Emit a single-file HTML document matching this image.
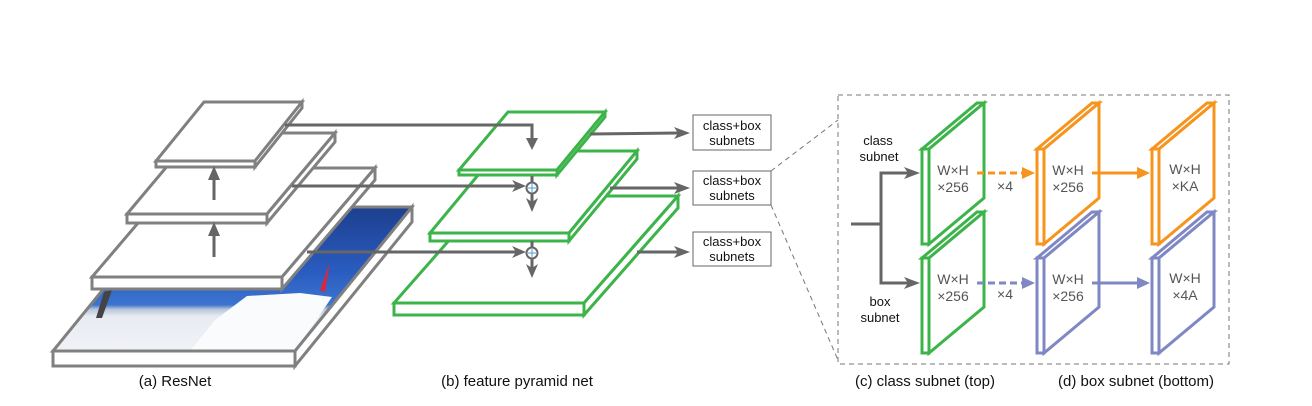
<!DOCTYPE html>
<html><head><meta charset="utf-8"><style>
html,body{margin:0;padding:0;background:#fff;}
svg{display:block;}
text{font-family:"Liberation Sans",sans-serif;}
</style></head><body>
<svg width="1312" height="406" viewBox="0 0 1312 406" xmlns="http://www.w3.org/2000/svg">
<defs>
<linearGradient id="sky" x1="0" y1="207" x2="0" y2="351" gradientUnits="userSpaceOnUse">
<stop offset="0" stop-color="#1d3f8e"/><stop offset="0.45" stop-color="#2a5cc0"/><stop offset="0.68" stop-color="#3c74d0"/><stop offset="0.71" stop-color="#b8c4d8"/><stop offset="0.76" stop-color="#e8ecf2"/><stop offset="1" stop-color="#f0f2f6"/>
</linearGradient>
</defs>
<g stroke-linejoin="miter">
<!-- image slab -->
<polygon points="170,207 412,207 295,351 53,351" fill="url(#sky)" stroke="#808080" stroke-width="3"/>
<polygon points="190,351 215,320 247,296 300,293 332,297 295,351" fill="#fafbfc"/>
<polygon points="320,290 330,262 325,292" fill="#d8283c"/>
<polygon points="104,292 112,290 102,318 96,318" fill="#444"/>
<rect x="53" y="351" width="242" height="15" fill="#fff" stroke="#808080" stroke-width="3"/>
<polygon points="295,351 412,207 412,222 295,366" fill="#fff" stroke="#808080" stroke-width="3"/>
<!-- slab3 -->
<polygon points="185,168 375,168 282,277 92,277" fill="#fff" stroke="#808080" stroke-width="3"/>
<rect x="92" y="277" width="190" height="12" fill="#fff" stroke="#808080" stroke-width="3"/>
<polygon points="282,277 375,168 375,180 282,289" fill="#fff" stroke="#808080" stroke-width="3"/>
<!-- slab2 -->
<polygon points="195,133 335,133 267,214 127,214" fill="#fff" stroke="#808080" stroke-width="3"/>
<rect x="127" y="214" width="140" height="9" fill="#fff" stroke="#808080" stroke-width="3"/>
<polygon points="267,214 335,133 335,142 267,223" fill="#fff" stroke="#808080" stroke-width="3"/>
<!-- slab1 -->
<polygon points="204,102 302,102 255,161 156,161" fill="#fff" stroke="#808080" stroke-width="3"/>
<rect x="156" y="161" width="99" height="6" fill="#fff" stroke="#808080" stroke-width="3"/>
<polygon points="255,161 302,102 302,108 255,167" fill="#fff" stroke="#808080" stroke-width="3"/>
<!-- up arrows -->
<line x1="214" y1="257" x2="214" y2="232" stroke="#666" stroke-width="3"/>
<polygon points="208,236 214,222 220,236" fill="#666"/>
<line x1="214" y1="200" x2="214" y2="176" stroke="#666" stroke-width="3"/>
<polygon points="208,180 214,166 220,180" fill="#666"/>

<!-- green slabs -->
<g fill="#fff" stroke="#3cb44a" stroke-width="3">
<polygon points="488,196 678,196 584,303 394,303"/>
<rect x="394" y="303" width="190" height="12"/>
<polygon points="584,303 678,196 678,208 584,315"/>
<polygon points="498,151 637,151 569,233 430,233"/>
<rect x="430" y="233" width="139" height="8"/>
<polygon points="569,233 637,151 637,159 569,241"/>
<polygon points="508,112 605,112 557,170 459,170"/>
<rect x="459" y="170" width="98" height="5"/>
<polygon points="557,170 605,112 605,117 557,175"/>
</g>

<!-- lateral connections -->
<g stroke="#666" stroke-width="3" fill="none">
<polyline points="285,125 532,125 532,140"/>
<line x1="292" y1="186" x2="518" y2="186"/>
<line x1="307" y1="252" x2="518" y2="252"/>
<line x1="532" y1="176" x2="532" y2="182"/>
<line x1="532" y1="194" x2="532" y2="202"/>
<line x1="532" y1="241" x2="532" y2="247"/>
<line x1="532" y1="259" x2="532" y2="268"/>
</g>
<polygon points="526,138 532,150 538,138" fill="#666"/>
<polygon points="512,180 526,186 512,192 516,186" fill="#666"/>
<polygon points="512,246 526,252 512,258 516,252" fill="#666"/>
<polygon points="526,198 532,212 538,198 532,202" fill="#666"/>
<polygon points="526,264 532,278 538,264 532,268" fill="#666"/>
<circle cx="532" cy="188" r="5.5" fill="#fff" stroke="#666" stroke-width="2"/>
<circle cx="532" cy="253" r="5.5" fill="#fff" stroke="#666" stroke-width="2"/>
<path d="M532,184v8M528,188h8" stroke="#4aa0d8" stroke-width="1"/>
<path d="M532,249v8M528,253h8" stroke="#4aa0d8" stroke-width="1"/>

<!-- to subnets -->
<g stroke="#666" stroke-width="3">
<line x1="590" y1="134" x2="678" y2="133"/>
<line x1="610" y1="188" x2="678" y2="188"/>
<line x1="637" y1="252" x2="678" y2="252"/>
</g>
<polygon points="674,127 690,133 674,139 678,133" fill="#666"/>
<polygon points="674,182 690,188 674,194 678,188" fill="#666"/>
<polygon points="674,246 690,252 674,258 678,252" fill="#666"/>
<g fill="#fff" stroke="#666" stroke-width="1">
<rect x="693" y="115" width="78" height="35"/>
<rect x="693" y="171" width="78" height="34"/>
<rect x="693" y="232" width="78" height="34"/>
</g>
<g font-size="13" fill="#111" text-anchor="middle">
<text x="732" y="130">class+box</text><text x="732" y="145">subnets</text>
<text x="732" y="185">class+box</text><text x="732" y="200">subnets</text>
<text x="732" y="246">class+box</text><text x="732" y="261">subnets</text>
</g>

<!-- dashed -->
<g stroke="#777" stroke-width="1" stroke-dasharray="5,4" fill="none">
<line x1="771" y1="171" x2="838" y2="120"/>
<line x1="771" y1="205" x2="838" y2="360"/>
<rect x="838" y="95" width="391" height="269"/>
</g>

<!-- subnet input -->
<g stroke="#666" stroke-width="3" fill="none">
<polyline points="851,224 881,224"/>
<polyline points="908,173 881,173 881,283 908,283"/>
</g>
<polygon points="904,167 920,173 904,179 908,173" fill="#666"/>
<polygon points="904,277 920,283 904,289 908,283" fill="#666"/>
<g font-size="13" fill="#111" text-anchor="middle">
<text x="878" y="145">class</text><text x="879" y="161">subnet</text>
<text x="880" y="306">box</text><text x="880" y="322">subnet</text>
</g>

<!-- panels -->
<g fill="#fff" stroke-width="3">
<g stroke="#3cb44a">
<polygon points="922,149 977,103 984,103 929,149"/><rect x="922" y="149" width="7" height="95"/><polygon points="929,149 984,103 984,198 929,244"/>
<polygon points="922,258 977,212 984,212 929,258"/><rect x="922" y="258" width="7" height="95"/><polygon points="929,258 984,212 984,307 929,353"/>
</g>
<g stroke="#f7941d">
<polygon points="1037,149 1092,103 1099,103 1044,149"/><rect x="1037" y="149" width="7" height="95"/><polygon points="1044,149 1099,103 1099,198 1044,244"/>
<polygon points="1152,149 1207,103 1214,103 1159,149"/><rect x="1152" y="149" width="7" height="95"/><polygon points="1159,149 1214,103 1214,198 1159,244"/>
</g>
<g stroke="#8088c4">
<polygon points="1037,258 1092,212 1099,212 1044,258"/><rect x="1037" y="258" width="7" height="95"/><polygon points="1044,258 1099,212 1099,307 1044,353"/>
<polygon points="1152,258 1207,212 1214,212 1159,258"/><rect x="1152" y="258" width="7" height="95"/><polygon points="1159,258 1214,212 1214,307 1159,353"/>
</g>
</g>
<g font-size="14" fill="#555" text-anchor="middle">
<text x="953" y="175">W×H</text><text x="953" y="192">×256</text>
<text x="953" y="284">W×H</text><text x="953" y="301">×256</text>
<text x="1068" y="175">W×H</text><text x="1068" y="192">×256</text>
<text x="1068" y="284">W×H</text><text x="1068" y="301">×256</text>
<text x="1185" y="174">W×H</text><text x="1185" y="191">×KA</text>
<text x="1185" y="283">W×H</text><text x="1185" y="300">×4A</text>
<text x="1005" y="191">×4</text><text x="1005" y="299">×4</text>
</g>
<g stroke-width="3">
<line x1="977" y1="173" x2="1026" y2="173" stroke="#f7941d" stroke-dasharray="7,4"/>
<line x1="1092" y1="173" x2="1140" y2="173" stroke="#f7941d"/>
<line x1="977" y1="283" x2="1026" y2="283" stroke="#8088c4" stroke-dasharray="7,4"/>
<line x1="1092" y1="283" x2="1140" y2="283" stroke="#8088c4"/>
</g>
<polygon points="1022,167 1035,173 1022,179" fill="#f7941d"/>
<polygon points="1137,167 1150,173 1137,179" fill="#f7941d"/>
<polygon points="1022,277 1035,283 1022,289" fill="#8088c4"/>
<polygon points="1137,277 1150,283 1137,289" fill="#8088c4"/>
</g>

<!-- captions -->
<g font-size="15" fill="#111" text-anchor="middle">
<text x="175" y="386">(a) ResNet</text>
<text x="517" y="386">(b) feature pyramid net</text>
<text x="925" y="386">(c) class subnet (top)</text>
<text x="1136" y="386">(d) box subnet (bottom)</text>
</g>
</svg>
</body></html>
